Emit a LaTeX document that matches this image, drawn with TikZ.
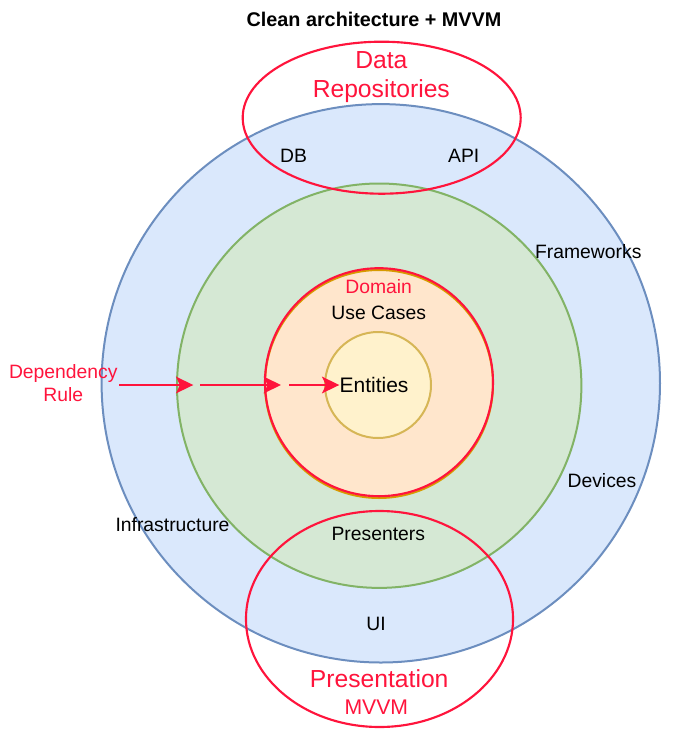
\documentclass[tikz,border=0pt]{standalone}
\usepackage{fontspec}
\setmainfont{Liberation Sans}
\usetikzlibrary{shapes.geometric,arrows.meta}
\definecolor{blueF}{HTML}{DAE8FC}
\definecolor{blueS}{HTML}{6C8EBF}
\definecolor{greenF}{HTML}{D5E8D4}
\definecolor{greenS}{HTML}{82B366}
\definecolor{orangeF}{HTML}{FFE6CC}
\definecolor{orangeS}{HTML}{D79B00}
\definecolor{yellowF}{HTML}{FFF2CC}
\definecolor{yellowS}{HTML}{D6B656}
\definecolor{redS}{RGB}{255,20,60}
\tikzset{
  ring/.style={circle, inner sep=0pt, outer sep=0pt, line width=1.5pt},
  oval/.style={ellipse, inner sep=0pt, outer sep=0pt, draw=redS, line width=1.6pt},
  lbl/.style={anchor=base, inner sep=0pt, font=\fontsize{14.5}{17}\selectfont},
  redlbl/.style={lbl, text=redS},
  biglbl/.style={anchor=base, inner sep=0pt, text=redS, font=\fontsize{18.5}{22}\selectfont},
  dep/.style={draw=redS, line width=1.5pt, -{Stealth[length=13pt,width=12.5pt,inset=3pt]}}
}
\begin{document}
\begin{tikzpicture}[x=0.75pt,y=-0.75pt]
\useasboundingbox (0,0) rectangle (699,733);
% rings
\node[ring, draw=blueS, fill=blueF, minimum size=418.8pt] (outer) at (380.8,383.3) {};
\node[ring, draw=greenS, fill=greenF, minimum size=303.3pt] (green) at (379.2,385.7) {};
\node[ring, draw=orangeS, fill=orangeF, minimum size=171pt] (orange) at (379,384) {};
\node[ring, draw=redS, line width=1.6pt, minimum size=171pt] (domain) at (379,382.2) {};
\node[ring, draw=yellowS, fill=yellowF, minimum size=79.5pt] (entities) at (378,385) {};
% ovals
\node[oval, minimum width=208.5pt, minimum height=114pt] (data) at (381.7,117.7) {};
\node[oval, minimum width=200.3pt, minimum height=162pt] (pres) at (379.5,619) {};
% title
\node[anchor=base, inner sep=0pt, font=\bfseries\fontsize{14.85}{17}\selectfont] (title) at (374,26.8) {Clean architecture + MVVM};
% red labels
\node[biglbl] (datal) at (381.3,68.6) {Data};
\node[biglbl] (repol) at (381.3,97) {Repositories};
\node[biglbl] (presl) at (379.2,687.3) {Presentation};
\node[anchor=base, inner sep=0pt, text=redS, font=\fontsize{15.9}{19}\selectfont] (mvvml) at (376.3,714) {MVVM};
\node[redlbl] (domainl) at (378.7,293) {Domain};
\node[redlbl] (depl) at (63.3,378.6) {Dependency};
\node[redlbl] (rulel) at (63.3,401.2) {Rule};
% black labels
\node[lbl] (dbl) at (293.5,162) {DB};
\node[lbl] (apil) at (463.7,162) {API};
\node[lbl] (fwl) at (588.3,258.6) {Frameworks};
\node[lbl] (ucl) at (378.7,319.2) {Use Cases};
\node[lbl] (devl) at (602,487.6) {Devices};
\node[lbl] (infl) at (172.5,531) {Infrastructure};
\node[lbl] (prl) at (378.3,540.2) {Presenters};
\node[lbl] (uil) at (376,630.2) {UI};
\node[anchor=base, inner sep=0pt, font=\fontsize{15.75}{19}\selectfont] (entl) at (374,392.6) {Entities};
% dependency arrows
\coordinate (a1s) at (119.3,385);
\coordinate (a1e) at (193.3,385);
\coordinate (a2s) at (200,385);
\coordinate (a2e) at (281,385);
\coordinate (a3s) at (289.3,385);
\draw[dep] (a1s) -- (a1e);
\draw[dep] (a2s) -- (a2e);
\draw[dep] (a3s) -- (entl.west |- a3s);
\end{tikzpicture}
\end{document}
